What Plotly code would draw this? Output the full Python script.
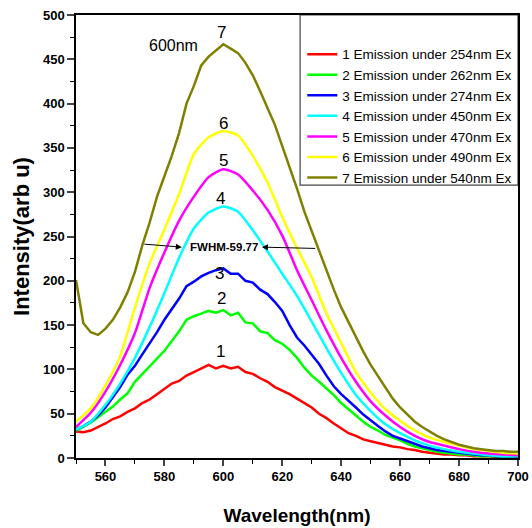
import numpy as np
import plotly.graph_objects as go

# Wavelength grids (nm)
wl_fine = np.arange(550, 700.1, 2.5)
wl_coarse = np.arange(550, 700.1, 5)

# Series values (arb. units)
s1_red = [30, 29, 31, 35, 39, 44, 47, 52, 56, 62,
          66, 72, 78, 84, 87, 93, 97, 101, 105, 101,
          104, 101, 103, 97, 95, 90, 86, 80, 76, 72,
          67, 62, 57, 50, 45, 39, 33, 28, 25, 21,
          19, 17, 15, 13, 12, 10, 9, 7, 6, 5,
          4, 4, 3, 3, 2, 2, 2, 1, 1, 1, 1]
s2_green = [31, 35, 40, 46, 53, 58, 66, 73, 86, 95,
            103, 112, 121, 132, 143, 156, 160, 163, 166, 164,
            167, 161, 164, 153, 152, 143, 141, 133, 129, 122,
            113, 102, 93, 86, 79, 71, 62, 55, 47, 41,
            35, 31, 26, 23, 20, 16, 13, 11, 9, 7,
            6, 5, 4, 4, 3, 2, 2, 2, 1, 1, 1]
s3_blue = [32, 36, 41, 48, 57, 68, 80, 94, 104, 117,
           129, 142, 156, 168, 180, 194, 199, 205, 209, 212,
           214, 208, 208, 200, 198, 190, 185, 176, 166, 150,
           136, 127, 116, 106, 93, 81, 72, 65, 57, 49,
           42, 36, 30, 25, 22, 19, 16, 13, 11, 9,
           8, 7, 6, 5, 4, 3, 3, 2, 2, 2, 1.5]
s4_cyan = [32, 41, 60, 84, 113, 148, 186, 226, 259, 277,
           284, 278, 257, 233, 208, 183, 154, 124, 96, 71,
           53, 38, 28, 20, 14, 10, 7, 5, 3, 2, 2]
s5_magenta = [35, 51, 75, 105, 141, 192, 232, 268, 295, 317,
              326, 320, 302, 280, 251, 212, 178, 144, 113, 86,
              64, 48, 35, 25, 18, 14, 10, 7, 5, 4, 3]
s6_yellow = [41, 56, 82, 115, 170, 220, 258, 298, 343, 362,
             369, 364, 341, 311, 272, 237, 204, 163, 130, 97,
             74, 55, 42, 31, 23, 18, 14, 10, 8, 6, 5]
s7_olive = [201, 152, 142, 139, 146, 156, 170, 187, 210, 240,
            266, 295, 318, 341, 367, 400, 420, 443, 453, 460,
            467, 462, 457, 446, 432, 414, 394, 376, 352, 329,
            304, 278, 256, 233, 212, 190, 170, 153, 137, 120,
            105, 92, 80, 67, 57, 49, 41, 35, 30, 25,
            21, 18, 15, 13, 11, 10, 9, 8, 8, 7, 7]

legend_names = ["1 Emission under 254nm Ex", "2 Emission under 262nm Ex",
                "3 Emission under 274nm Ex", "4 Emission under 450nm Ex",
                "5 Emission under 470nm Ex", "6 Emission under 490nm Ex",
                "7 Emission under 540nm Ex"]
colors = ["#FF0000", "#00FF00", "#0000FF", "#00FFFF", "#FF00FF", "#FFFF00", "#808000"]
series = [(wl_fine, s1_red), (wl_fine, s2_green), (wl_fine, s3_blue),
          (wl_coarse, s4_cyan), (wl_coarse, s5_magenta), (wl_coarse, s6_yellow),
          (wl_fine, s7_olive)]
shapes = ["linear", "linear", "linear", "spline", "spline", "spline", "linear"]

# Peak labels
peak_labels = ["1", "2", "3", "4", "5", "6", "7"]
peak_label_x = [599, 599.4, 598.6, 599, 600, 600, 599.5]
peak_label_y = [120, 180, 208, 293, 336, 377, 480]

fig = go.Figure()
for (x, y), name, c, sh in zip(series, legend_names, colors, shapes):
    fig.add_trace(go.Scatter(x=x, y=y, mode="lines", name=name,
                             line=dict(color=c, width=2.5, shape=sh, smoothing=0.6)))

for t, x, y in zip(peak_labels, peak_label_x, peak_label_y):
    fig.add_annotation(x=x, y=y, text=t, showarrow=False,
                       font=dict(family="Arial", size=17, color="black"))

fig.add_annotation(x=583, y=466, text="600nm", showarrow=False,
                   font=dict(family="Arial", size=16, color="black"))
fig.add_annotation(x=600.2, y=238, text="<b>FWHM-59.77</b>", showarrow=False,
                   font=dict(family="Arial", size=11.5, color="black"))
# FWHM arrows
fig.add_annotation(x=585.9, y=238, ax=572.7, ay=241.5, axref="x", ayref="y",
                   xref="x", yref="y", text="", showarrow=True,
                   arrowhead=2, arrowsize=1.2, arrowwidth=1, arrowcolor="black")
fig.add_annotation(x=613.1, y=238, ax=631.7, ay=236.5, axref="x", ayref="y",
                   xref="x", yref="y", text="", showarrow=True,
                   arrowhead=2, arrowsize=1.2, arrowwidth=1, arrowcolor="black")

# Legend border box
fig.add_shape(type="rect", xref="paper", yref="paper",
              x0=0.507, x1=1.0, y0=0.616, y1=1.0,
              line=dict(color="#444444", width=1.2), fillcolor="white", layer="below")

fig.update_layout(
    width=532, height=528,
    margin=dict(l=76, r=14, t=15, b=70, autoexpand=False),
    paper_bgcolor="white", plot_bgcolor="rgba(0,0,0,0)",
    showlegend=True,
    legend=dict(x=0.512, y=0.946, xanchor="left", yanchor="top",
                bgcolor="rgba(0,0,0,0)", borderwidth=0,
                font=dict(family="Arial", size=13.5, color="black"),
                tracegroupgap=0, itemwidth=30),
    font=dict(family="Arial", color="black"),
)

fig.update_xaxes(
    range=[550, 700], tick0=560, dtick=20, ticks="outside", ticklen=6, tickwidth=1.5,
    showline=True, linecolor="black", linewidth=1.5, mirror=True,
    showgrid=False, zeroline=False, automargin=False, ticklabeloverflow="allow",
    minor=dict(dtick=10, tick0=550, ticks="outside", ticklen=4, tickwidth=1.2, tickcolor="black", showgrid=False),
    tickfont=dict(family="Arial", size=13, color="black"),
    tickprefix="<b>", ticksuffix="</b>",
    title=dict(text="<b>Wavelength(nm)</b>", font=dict(family="Arial", size=19, color="black"), standoff=25),
)
fig.update_yaxes(
    range=[0, 500], tick0=0, dtick=50, ticks="outside", ticklen=7, tickwidth=1.5,
    showline=True, linecolor="black", linewidth=1.5, mirror=True,
    showgrid=False, zeroline=False, automargin=False, ticklabeloverflow="allow",
    minor=dict(dtick=25, tick0=0, ticks="outside", ticklen=4, tickwidth=1.2, tickcolor="black", showgrid=False),
    tickfont=dict(family="Arial", size=13, color="black"),
    tickprefix="<b>", ticksuffix="</b>",
    title=dict(text="<b>Intensity(arb u)</b>", font=dict(family="Arial", size=22, color="black"), standoff=7),
)

fig.write_html("out.html", config={"displayModeBar": False},
               post_script="document.body.style.margin='0';document.body.style.overflow='hidden';")
